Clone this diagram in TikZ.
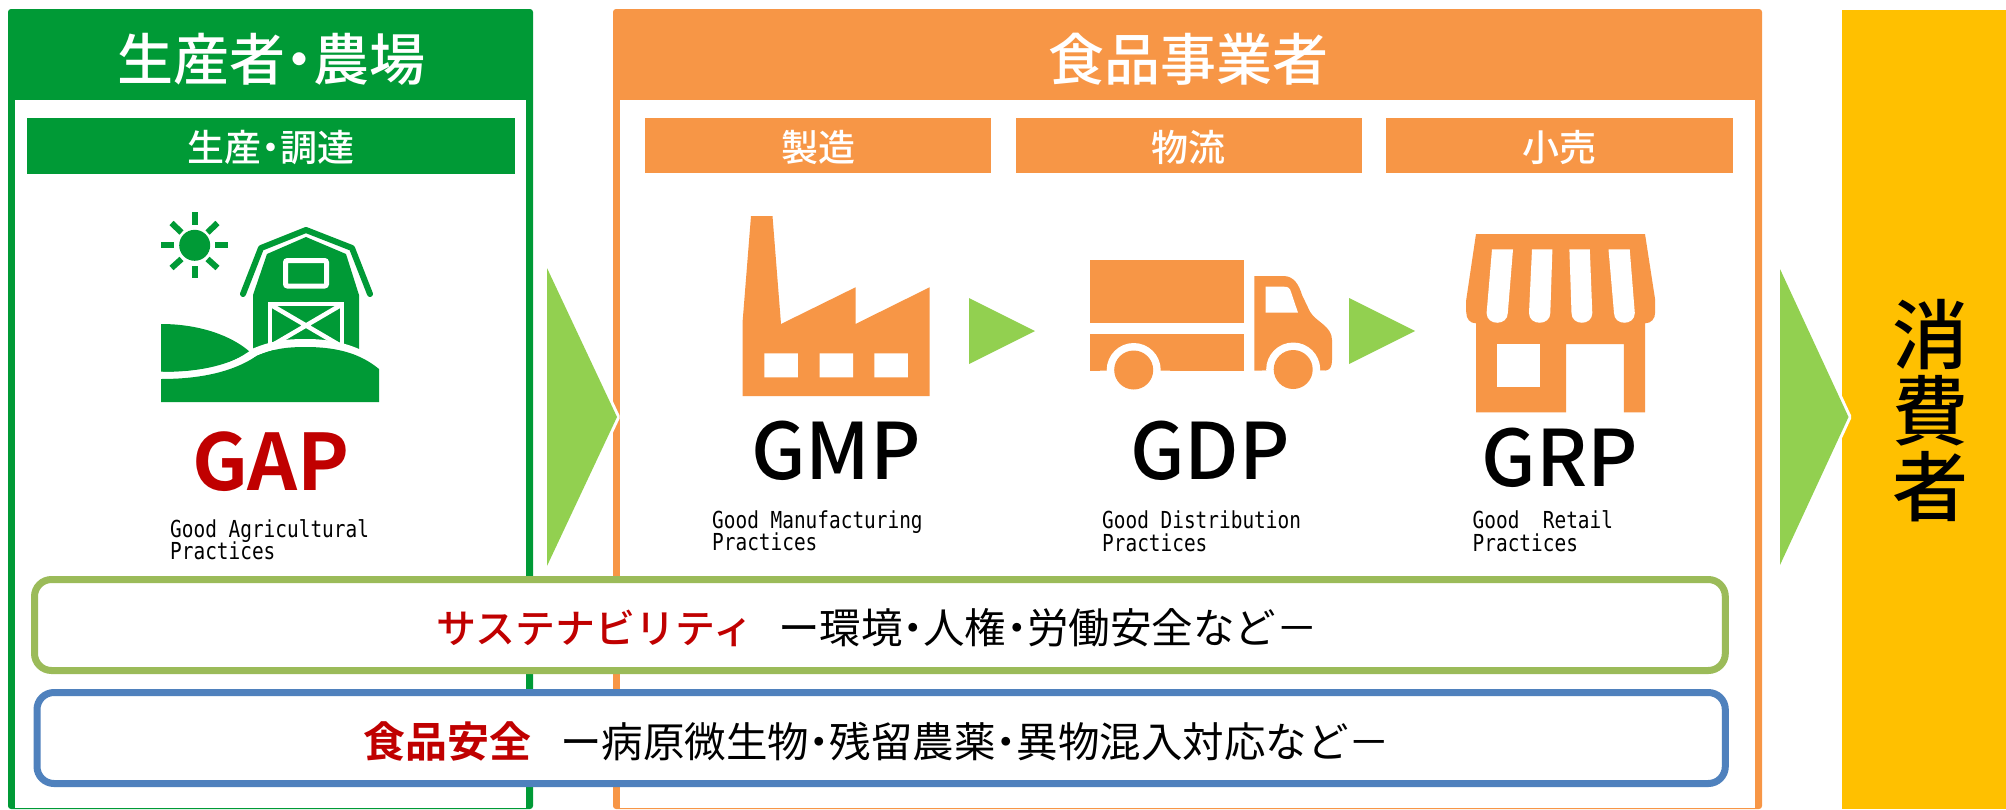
\documentclass[tikz,border=0pt]{standalone}
\usepackage{fontspec}
\newfontfamily\cjk{Noto Sans CJK JP}
\newfontfamily\cjkm{Noto Sans CJK JP Medium}
\newfontfamily\cjkb{Noto Sans CJK JP Bold}
\newfontfamily\narrowmono[FakeStretch=0.83]{DejaVu Sans Mono}
\definecolor{farm}{HTML}{009A36}
\definecolor{food}{HTML}{F79646}
\definecolor{flow}{HTML}{92D050}
\definecolor{crim}{HTML}{C00000}
\definecolor{sust}{HTML}{9BBB59}
\definecolor{safe}{HTML}{4F81BD}
\definecolor{cons}{HTML}{FFC000}
\newcommand{\nd}{\hspace{-.25em}・\hspace{-.25em}}
\newcommand{\fsz}[1]{\fontsize{#1}{#1}\selectfont}
\tikzset{
  bigarrow/.style={fill=flow,preaction={draw=white,line width=6pt,line join=round}},
  smallarrow/.style={fill=flow},
  head/.style={text=white,inner sep=0pt,font=\cjkm\fsz{56}},
  sub/.style={text=white,inner sep=0pt,font=\cjkm\fsz{37}},
  bigcode/.style={inner sep=0pt,font=\cjkm\fsz{78},anchor=base},
  note/.style={inner sep=0pt,font=\narrowmono\fsz{23.4},anchor=base west},
  band/.style={fill=white,line width=7pt,rounded corners=17pt},
  ruby/.style={inner sep=0pt,text=crim,anchor=base west},
  plain/.style={inner sep=0pt,text=black,anchor=base west},
}
\begin{document}
\begin{tikzpicture}[x=1pt,y=-1pt]
\useasboundingbox (0,0) rectangle (2006,809);
% panels
\fill[farm,rounded corners=3pt] (8,9) rectangle (533,809);
\fill[white] (15,100) rectangle (526,807.5);
\fill[food,rounded corners=3pt] (613,9) rectangle (1762,809);
\fill[white] (620,100) rectangle (1755,807.5);
\fill[cons] (1842,10) rectangle (2006,809);
% sub bars
\fill[farm] (27,118) rectangle (515,174);
\fill[food] (645,118) rectangle (991,173);
\fill[food] (1016,118) rectangle (1362,173);
\fill[food] (1386,118) rectangle (1733,173);
\node[head] (h1) at (271,59) {生産者\nd 農場};
\node[head] (h2) at (1188,59) {食品事業者};
\node[sub] (s1) at (271,148) {生産\nd 調達};
\node[sub] (s2) at (818,147) {製造};
\node[sub] (s3) at (1188,147) {物流};
\node[sub] (s4) at (1559,147) {小売};
% sun
\fill[farm] (194.7,245.3) circle (15.5);
\begin{scope}[draw=farm,line width=6pt]
\draw (194.7,212) -- (194.7,225);
\draw (194.7,266) -- (194.7,278);
\draw (161,245.3) -- (174,245.3);
\draw (215,245.3) -- (228,245.3);
\draw (171.5,223) -- (181.5,232.5);
\draw (217.5,223) -- (207.5,232.5);
\draw (171.5,268) -- (181.5,259);
\draw (217.5,268) -- (207.5,259);
\end{scope}
% barn
\fill[farm] (161,324) .. controls (200,324) and (232,336) .. (250,352) .. controls (225,367) and (195,372) .. (161,372) -- cycle;
\draw[farm,line width=6pt,line cap=round,line join=round] (243,294) -- (261,248) -- (306,230) -- (352,248) -- (370,294);
\fill[farm] (253,295) -- (267,254) -- (306,237) -- (346,254) -- (359,295) -- (359,360) -- (253,360) -- cycle;
\draw[white,line width=5pt,rounded corners=2pt] (285.5,260.5) rectangle (326.5,286);
\draw[white,line width=4.5pt] (270,304) rectangle (342,348);
\draw[white,line width=4.5pt] (271,305) -- (341,346) (341,305) -- (271,346);
\draw[white,line width=8pt] (150,375) .. controls (200,379) and (232,370) .. (255,352) .. controls (272,345) and (285,343) .. (306,343) .. controls (340,343) and (362,352) .. (385,369);
\fill[farm] (161,379) .. controls (200,379) and (232,372) .. (255,357) .. controls (272,349) and (285,347) .. (306,347) .. controls (340,347) and (362,355) .. (379,369) -- (379,402) -- (161,402) -- cycle;
% factory
\fill[food] (751,216) -- (772.5,216) -- (781,324) -- (855.5,287.3) -- (855.5,324) -- (929.6,287.3) -- (929.6,396) -- (742.5,396) -- (742.5,323) -- cycle;
\fill[white] (764.3,353.3) rectangle (797.8,377.3) (819.6,353.3) rectangle (853,377.3) (874.4,353.3) rectangle (907.8,377.3);
% truck
\fill[food] (1089.6,260) rectangle (1243.7,323.3);
\fill[food] (1089.6,333.7) rectangle (1243.7,370.7);
\fill[food] (1254.4,276) -- (1283.5,276) .. controls (1294,276) and (1299,285) .. (1302,295) -- (1310,311.7) .. controls (1316,322) and (1332,326) .. (1332,340) -- (1332,360) .. controls (1332,367) and (1330,370) .. (1325,370.7) -- (1254.4,370.7) -- cycle;
\fill[white] (1265.5,286.7) -- (1284,286.7) .. controls (1288,286.7) and (1290,288) .. (1291,292) -- (1298,312.7) -- (1265.5,312.7) -- cycle;
\fill[white] (1133.7,370) circle (27) (1293.2,369.5) circle (27);
\fill[white] (1100,370.7) rectangle (1170,395) (1262,370.7) rectangle (1325,395);
\fill[food] (1133.7,370) circle (19.5) (1293.2,369.5) circle (19.5);
% store
\fill[food] (1476,234) -- (1645,234) -- (1655.2,300) -- (1655.2,312) .. controls (1655.2,319) and (1651,323.3) .. (1645,323.3) -- (1645,412.3) -- (1623.8,412.3) -- (1623.8,344) -- (1566,344) -- (1566,412.3) -- (1476,412.3) -- (1476,323.3) .. controls (1470,323.3) and (1466.2,319) .. (1466.2,312) -- (1466.2,300) -- cycle;
\fill[white] (1497.2,344) rectangle (1539.7,386.7);
\fill[white] (1492,249.3) -- (1513,249.3) -- (1507.8,313) .. controls (1507.8,326) and (1486.6,326) .. (1486.6,313) -- cycle;
\fill[white] (1532,249.3) -- (1552.4,249.3) -- (1550.3,313) .. controls (1550.3,326) and (1529,326) .. (1529,313) -- cycle;
\fill[white] (1569.4,249.3) -- (1589.8,249.3) -- (1592.3,313) .. controls (1592.3,326) and (1571.5,326) .. (1571.5,313) -- cycle;
\fill[white] (1608.5,249.3) -- (1629.7,249.3) -- (1634.8,313) .. controls (1634.8,326) and (1614,326) .. (1614,313) -- cycle;
% code labels
\node[bigcode,text=crim] (gap) at (271,490) {\cjkb GAP};
\node[bigcode] (gmp) at (836,479) {GMP};
\node[bigcode] (gdp) at (1210,479) {GDP};
\node[bigcode] (grp) at (1560,486.5) {GRP};
\node[note] (n1a) at (170,537) {Good Agricultural};
\node[note] (n1b) at (170,559.5) {Practices};
\node[note] (n2a) at (712,528) {Good Manufacturing};
\node[note] (n2b) at (712,550) {Practices};
\node[note] (n3a) at (1102,528.5) {Good Distribution};
\node[note] (n3b) at (1102,551) {Practices};
\node[note] (n4a) at (1472.5,528.5) {Good\hspace{11.7pt} Retail};
\node[note] (n4b) at (1472.5,551) {Practices};
% flow arrows
\path[bigarrow] (547,268) -- (617,417) -- (547,566) -- cycle;
\path[bigarrow] (1780,269) -- (1848.5,417) -- (1780,565) -- cycle;
\path[smallarrow] (969,298) -- (1035,331) -- (969,364) -- cycle;
\path[smallarrow] (1349,298) -- (1415,331) -- (1349,364) -- cycle;
% consumer
\node[inner sep=0pt,align=center,font=\cjkm\fsz{76}] (cons) at (1930,411) {\fsz{76}\baselineskip=74pt 消\\費\\者};
% bands
\draw[band,draw=sust] (34.5,579.5) rectangle (1725.3,670.5);
\draw[band,draw=safe] (37,692.5) rectangle (1725.3,783.5);
\node[ruby,font=\cjkm\fsz{40}] (t1) at (436,643) {サステナビリティ};
\node[plain,font=\cjk\fsz{41.5}] (t2) at (778,643) {ー環境\nd 人権\nd 労働安全など－};
\node[ruby,font=\cjkb\fsz{42}] (t3) at (363,757) {食品安全};
\node[plain,font=\cjk\fsz{41.5}] (t4) at (560,757) {ー病原微生物\nd 残留農薬\nd 異物混入対応など－};
\end{tikzpicture}
\end{document}
